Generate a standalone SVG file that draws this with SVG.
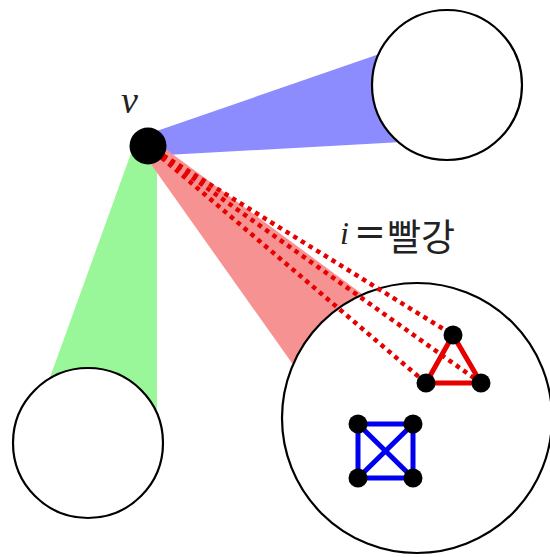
<svg xmlns="http://www.w3.org/2000/svg" width="550" height="557" viewBox="0 0 550 557">
<style>
.big{fill:#ffffff;stroke:#000;stroke-width:2.2}
.node{fill:#000}
.dot{stroke:#e60000;stroke-width:4.5;stroke-dasharray:4.5 4.5;fill:none}
.red{stroke:#e60000;stroke-width:5;fill:none;stroke-linecap:round}
.blue{stroke:#0000ee;stroke-width:5;fill:none;stroke-linecap:round}
.math{font-family:"Liberation Serif",serif;font-style:italic;fill:#222}
</style>
<rect width="550" height="557" fill="#fff"/>
<g id="wedges">
<polygon points="148,134 420,40 420,141 148,156" fill="#8c8cff"/>
<polygon points="134,145 157,145 157,430 31,430" fill="#99f799"/>
<polygon points="148,136 400,322 350,445 148,160" fill="#f79292"/>
</g>
<g id="circle-top"><circle cx="447" cy="85" r="75" class="big"/></g>
<g id="circle-left"><circle cx="88" cy="443" r="75" class="big"/></g>
<g id="circle-big"><circle cx="417" cy="418" r="135" class="big" stroke-width="1.8"/></g>
<g id="connectors">
<line x1="148" y1="146" x2="453" y2="335" class="dot"/>
<line x1="148" y1="146" x2="481" y2="383" class="dot"/>
<line x1="148" y1="146" x2="426" y2="383" class="dot"/>
<line x1="453" y1="335" x2="426" y2="383" class="red"/>
<line x1="453" y1="335" x2="481" y2="383" class="red"/>
<line x1="426" y1="383" x2="481" y2="383" class="red"/>
<line x1="358" y1="424" x2="413" y2="424" class="blue"/>
<line x1="358" y1="478" x2="413" y2="478" class="blue"/>
<line x1="358" y1="424" x2="358" y2="478" class="blue"/>
<line x1="413" y1="424" x2="413" y2="478" class="blue"/>
<line x1="358" y1="424" x2="413" y2="478" class="blue"/>
<line x1="413" y1="424" x2="358" y2="478" class="blue"/>
</g>
<g id="triangle">
<circle cx="453" cy="335" r="9.5" class="node"/>
<circle cx="426" cy="383" r="9.5" class="node"/>
<circle cx="481" cy="383" r="9.5" class="node"/>
</g>
<g id="square">
<circle cx="358" cy="424" r="9.5" class="node"/>
<circle cx="413" cy="424" r="9.5" class="node"/>
<circle cx="358" cy="478" r="9.5" class="node"/>
<circle cx="413" cy="478" r="9.5" class="node"/>
</g>
<g id="v">
<circle cx="148" cy="146" r="18.5" class="node"/>
<text x="121" y="113" class="math" font-size="38">v</text>
</g>
<g id="label">
<text y="244" fill="#222"><tspan x="340" class="math" font-size="32">i</tspan><tspan x="354" font-family="DejaVu Sans,sans-serif" font-size="38">=</tspan><tspan x="387" y="251" font-family="'Noto Sans CJK KR',sans-serif" font-size="37">빨강</tspan></text>
</g>
</svg>
